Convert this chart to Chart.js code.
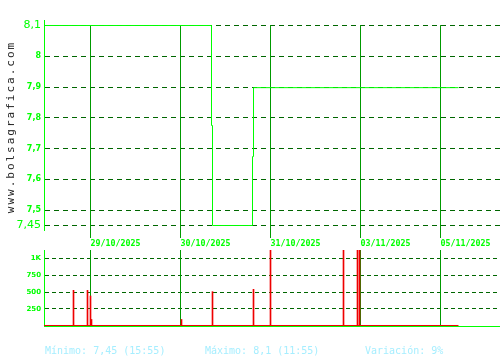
<!DOCTYPE html>
<html>
<head>
<meta charset="utf-8">
<script src="https://cdn.jsdelivr.net/npm/chart.js@4/dist/chart.umd.min.js"></script>
<style>
html,body{margin:0;padding:0;background:#fff;width:500px;height:360px;overflow:hidden}
#wrap{position:relative;width:500px;height:360px}
canvas{position:absolute;left:0;top:0}
.wm{position:absolute;left:-89px;top:120px;width:200px;height:14px;line-height:14px;text-align:center;transform:rotate(-90deg);font:11px "DejaVu Sans Mono",monospace;letter-spacing:2px;color:#222}
.foot{position:absolute;top:345px;font:10px "DejaVu Sans Mono",monospace;line-height:12px;color:#a6eeff;white-space:pre}
</style>
</head>
<body>
<div id="wrap">
<canvas id="priceChart" width="500" height="360"></canvas>
<canvas id="volChart" width="500" height="360"></canvas>
<div class="wm">www.bolsagrafica.com</div>
<div class="foot" style="left:45px">Mínimo: 7,45 (15:55)</div>
<div class="foot" style="left:205px">Máximo: 8,1 (11:55)</div>
<div class="foot" style="left:365px">Variación: 9%</div>
</div>
<script>
// ---- data (x = trading-session position, in tenths of a day) ----
const sessionEnd = 45.6;
const dayLabels = ['29/10/2025','30/10/2025','31/10/2025','03/11/2025','05/11/2025'];
const dayStarts = [4.65, 13.65, 22.65, 31.65, 39.65];
const priceX = [0, 16.75, 16.85, 20.85, 20.95, 41.45];
const priceY = [8.1, 7.775, 7.45, 7.674, 7.898, 7.898];
const volumeX = [2.95, 4.35, 4.65, 4.75, 13.75, 16.85, 20.95, 22.65, 29.95, 31.35, 31.55];
const volumeY = [525, 525, 440, 90, 90, 505, 540, 1500, 1500, 1500, 1500];
const priceTickValues = [7.45, 7.5, 7.6, 7.7, 7.8, 7.9, 8, 8.1];
const priceTickLabels = ['7,45','7,5','7,6','7,7','7,8','7,9','8','8,1'];
const volTickValues = [250, 500, 750, 1000];
const volTickLabels = ['250','500','750','1K'];

const GREEN = '#00ff00', DAY = '#009900', GRID = '#006600', RED = '#ee0000';
const priceMin = 7.43537, priceMax = 8.11787;
const volMin = -7.5, volMax = 1127;

Chart.defaults.font.family = 'DejaVu Sans';

const pricePoints = priceX.map((x, i) => ({x, y: priceY[i]}));
const topDayLines = dayStarts.flatMap(x => [{x, y: 8.1}, {x, y: 7.41}, {x, y: null}]);

new Chart(document.getElementById('priceChart'), {
  type: 'line',
  data: {
    datasets: [
      {data: pricePoints, borderColor: GREEN, borderWidth: 1, stepped: true, pointRadius: 0, fill: false},
      {data: topDayLines, borderColor: DAY, borderWidth: 1, pointRadius: 0, spanGaps: false, clip: false}
    ]
  },
  options: {
    responsive: false, animation: false, devicePixelRatio: 1,
    layout: {padding: {top: 20, bottom: 130, left: 0, right: 0}},
    plugins: {legend: {display: false}, tooltip: {enabled: false}},
    scales: {
      x: {type: 'linear', display: false, min: 0, max: sessionEnd, offset: false},
      y: {
        type: 'linear', min: priceMin, max: priceMax,
        afterBuildTicks: s => { s.ticks = priceTickValues.map(v => ({value: v})); },
        afterFit: s => { s.width = 44; },
        grid: {color: GRID, lineWidth: 1, drawTicks: false},
        border: {color: GREEN, width: 1, dash: [5, 4]},
        ticks: {
          color: GREEN, padding: 3, autoSkip: false,
          callback: (v, i) => priceTickLabels[i],
          font: c => (c.index === 0 || c.index === priceTickValues.length - 1)
            ? {family: 'DejaVu Sans', size: 11}
            : {family: 'DejaVu Sans', size: 8, weight: 'bold'}
        }
      }
    }
  }
});

const volBars = volumeX.map((x, i) => ({x, y: volumeY[i]}));
const volBase = [{x: 0, y: 0}, {x: priceX[priceX.length - 1], y: 0}];
const bottomDayLines = dayStarts.flatMap(x => [{x, y: 0}, {x, y: volMax}, {x, y: null}]);

new Chart(document.getElementById('volChart'), {
  type: 'bar',
  data: {
    datasets: [
      {type: 'bar', data: volBars, backgroundColor: RED, borderWidth: 0, barThickness: 1, xAxisID: 'x', yAxisID: 'y'},
      {type: 'line', data: volBase, borderColor: RED, borderWidth: 1, pointRadius: 0, xAxisID: 'x', yAxisID: 'y'},
      {type: 'line', data: bottomDayLines, borderColor: DAY, borderWidth: 1, pointRadius: 0, spanGaps: false, xAxisID: 'x', yAxisID: 'y'}
    ]
  },
  options: {
    responsive: false, animation: false, devicePixelRatio: 1,
    layout: {padding: {top: 238, bottom: 34, left: 0, right: 0}},
    plugins: {legend: {display: false}, tooltip: {enabled: false}},
    scales: {
      x: {
        type: 'linear', position: 'bottom', min: 0, max: sessionEnd, offset: false,
        afterFit: s => { s.height = 0; s.paddingLeft = 0; s.paddingRight = 0; },
        grid: {display: false, offset: false},
        ticks: {display: false},
        border: {display: true, color: GREEN, width: 1, z: 1}
      },
      x2: {
        type: 'linear', position: 'top', min: 0, max: sessionEnd, offset: false,
        afterBuildTicks: s => { s.ticks = dayStarts.map(v => ({value: v})); },
        afterFit: s => { s.height = 12; s.paddingLeft = 0; s.paddingRight = 0; },
        grid: {display: false, drawTicks: false, offset: false},
        border: {display: false},
        ticks: {
          autoSkip: false, maxRotation: 0, minRotation: 0, align: 'start', padding: 1,
          color: GREEN, font: {family: 'DejaVu Sans Mono', size: 8.3, weight: 'bold'},
          callback: (v, i) => dayLabels[i]
        }
      },
      y: {
        type: 'linear', min: volMin, max: volMax,
        afterBuildTicks: s => { s.ticks = volTickValues.map(v => ({value: v})); },
        afterFit: s => { s.width = 44; },
        grid: {color: GRID, lineWidth: 1, drawTicks: false},
        border: {color: GREEN, width: 1, dash: [4, 3]},
        ticks: {
          color: GREEN, padding: 3, autoSkip: false,
          callback: (v, i) => volTickLabels[i],
          font: {family: 'DejaVu Sans', size: 7, weight: 'bold'}
        }
      }
    }
  }
});
</script>
</body>
</html>
